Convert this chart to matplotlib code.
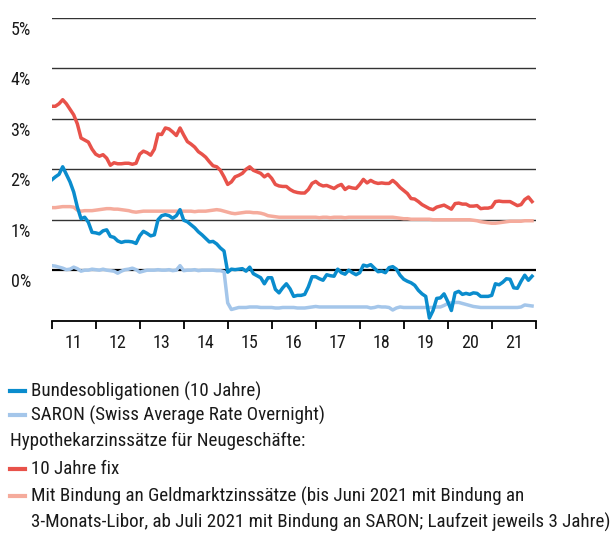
import numpy as np
import matplotlib
matplotlib.use("Agg")
import matplotlib.pyplot as plt
from matplotlib import font_manager

# schmale Schrift suchen, falls vorhanden
schrift = None
schmal = None
for f in font_manager.fontManager.ttflist:
    if f.style == 'normal' and f.weight in (400, 'normal', 'regular') and \
            f.stretch in ('condensed', 'semi-condensed', 'extra-condensed'):
        if schrift is None or f.name in ('Liberation Sans Narrow', 'Roboto Condensed', 'Noto Sans'):
            schrift, schmal = f.name, f.stretch
if schrift is None:
    for name in ['Liberation Sans Narrow', 'Roboto Condensed', 'Roboto']:
        if any(f.name == name for f in font_manager.fontManager.ttflist):
            schrift, schmal = name, 'normal'
            break
if schrift is None:
    schrift, schmal = 'DejaVu Sans', 'normal'

plt.rcParams['font.family'] = [schrift, 'DejaVu Sans']
plt.rcParams['font.stretch'] = schmal

# Monatswerte Jan 2011 - Dez 2021 (in %)
bund_10j = [
    1.79, 1.85, 1.90, 2.05, 1.90, 1.75, 1.55, 1.25, 1.02, 1.05, 0.95, 0.75,
    0.74, 0.72, 0.78, 0.80, 0.67, 0.65, 0.58, 0.55, 0.57, 0.57, 0.56, 0.53,
    0.68, 0.77, 0.73, 0.68, 0.70, 1.00, 1.08, 1.10, 1.08, 1.03, 1.08, 1.20,
    0.99, 0.96, 0.90, 0.84, 0.76, 0.70, 0.63, 0.56, 0.57, 0.52, 0.44, 0.38,
    -0.04, 0.02, 0.01, 0.02, 0.03, -0.02, 0.06, -0.07, -0.11, -0.15, -0.27, -0.15,
    -0.15, -0.38, -0.45, -0.35, -0.27, -0.37, -0.52, -0.50, -0.50, -0.48, -0.33, -0.13,
    -0.13, -0.17, -0.20, -0.09, -0.11, -0.12, 0.02, -0.05, -0.08, 0.00, -0.05, -0.09,
    -0.05, 0.10, 0.08, 0.11, 0.04, -0.03, -0.02, -0.05, 0.05, 0.07, 0.02, -0.10,
    -0.18, -0.22, -0.25, -0.30, -0.40, -0.47, -0.52, -0.95, -0.80, -0.56, -0.55, -0.47,
    -0.62, -0.80, -0.45, -0.42, -0.48, -0.46, -0.48, -0.45, -0.46, -0.52, -0.52, -0.52,
    -0.50, -0.27, -0.29, -0.24, -0.17, -0.18, -0.35, -0.36, -0.22, -0.10, -0.20, -0.12,
]
saron = [
    0.09, 0.08, 0.06, 0.04, 0.01, 0.02, 0.06, 0.03, -0.02, 0.00, 0.00, 0.02,
    0.01, 0.00, 0.02, 0.00, -0.01, -0.02, -0.06, -0.02, 0.01, 0.02, 0.04, 0.01,
    -0.04, -0.02, 0.00, 0.00, 0.00, 0.01, 0.00, 0.00, 0.01, -0.01, 0.00, 0.09,
    -0.01, 0.00, 0.00, 0.01, -0.01, 0.00, 0.00, 0.00, 0.00, -0.01, -0.01, -0.03,
    -0.65, -0.78, -0.76, -0.74, -0.74, -0.74, -0.73, -0.73, -0.73, -0.74, -0.74, -0.74,
    -0.74, -0.75, -0.75, -0.74, -0.74, -0.74, -0.74, -0.75, -0.75, -0.75, -0.74, -0.73,
    -0.72, -0.73, -0.73, -0.73, -0.73, -0.73, -0.73, -0.73, -0.73, -0.73, -0.73, -0.73,
    -0.73, -0.73, -0.73, -0.75, -0.74, -0.72, -0.73, -0.73, -0.74, -0.79, -0.75, -0.73,
    -0.74, -0.74, -0.74, -0.74, -0.74, -0.74, -0.74, -0.74, -0.74, -0.73, -0.73, -0.70,
    -0.66, -0.65, -0.64, -0.64, -0.66, -0.68, -0.70, -0.72, -0.73, -0.74, -0.74, -0.74,
    -0.74, -0.74, -0.74, -0.74, -0.74, -0.74, -0.74, -0.74, -0.73, -0.69, -0.70, -0.71,
]
hypo_10j_fix = [
    3.25, 3.25, 3.30, 3.38, 3.30, 3.19, 3.08, 2.90, 2.62, 2.58, 2.54, 2.40,
    2.30, 2.26, 2.29, 2.22, 2.08, 2.13, 2.11, 2.11, 2.12, 2.12, 2.10, 2.12,
    2.30, 2.36, 2.33, 2.28, 2.40, 2.70, 2.69, 2.82, 2.80, 2.74, 2.67, 2.82,
    2.68, 2.55, 2.50, 2.44, 2.35, 2.30, 2.24, 2.15, 2.07, 2.05, 1.98, 1.85,
    1.70, 1.75, 1.85, 1.88, 1.92, 2.00, 2.05, 1.98, 1.95, 1.92, 1.85, 1.90,
    1.82, 1.70, 1.67, 1.66, 1.66, 1.60, 1.56, 1.54, 1.53, 1.53, 1.60, 1.72,
    1.76, 1.70, 1.67, 1.68, 1.65, 1.62, 1.67, 1.70, 1.60, 1.65, 1.63, 1.62,
    1.70, 1.80, 1.73, 1.78, 1.74, 1.72, 1.73, 1.72, 1.72, 1.78, 1.72, 1.64,
    1.58, 1.52, 1.42, 1.41, 1.36, 1.30, 1.26, 1.22, 1.20, 1.25, 1.27, 1.29,
    1.25, 1.21, 1.32, 1.33, 1.31, 1.31, 1.27, 1.27, 1.28, 1.22, 1.23, 1.23,
    1.25, 1.36, 1.37, 1.36, 1.36, 1.36, 1.32, 1.28, 1.30, 1.40, 1.45, 1.36,
]
hypo_geldmarkt = [
    1.24, 1.24, 1.25, 1.26, 1.26, 1.26, 1.25, 1.19, 1.17, 1.18, 1.18, 1.18,
    1.19, 1.20, 1.21, 1.22, 1.22, 1.21, 1.21, 1.20, 1.19, 1.18, 1.16, 1.15,
    1.16, 1.17, 1.17, 1.17, 1.17, 1.17, 1.17, 1.17, 1.17, 1.17, 1.17, 1.17,
    1.17, 1.17, 1.17, 1.16, 1.17, 1.17, 1.17, 1.18, 1.19, 1.20, 1.19, 1.17,
    1.15, 1.13, 1.12, 1.13, 1.14, 1.15, 1.15, 1.14, 1.14, 1.13, 1.11, 1.08,
    1.07, 1.06, 1.05, 1.05, 1.05, 1.05, 1.05, 1.05, 1.05, 1.05, 1.05, 1.05,
    1.05, 1.04, 1.05, 1.05, 1.04, 1.05, 1.05, 1.05, 1.04, 1.05, 1.05, 1.05,
    1.05, 1.05, 1.05, 1.05, 1.05, 1.05, 1.05, 1.05, 1.05, 1.05, 1.04, 1.03,
    1.02, 1.02, 1.01, 1.01, 1.01, 1.01, 1.01, 1.01, 1.00, 1.00, 1.00, 1.00,
    1.00, 1.00, 1.00, 1.00, 1.00, 1.00, 1.00, 0.99, 0.98, 0.96, 0.95, 0.94,
    0.93, 0.93, 0.94, 0.95, 0.96, 0.97, 0.97, 0.97, 0.97, 0.98, 0.98, 0.98,
]
jahre = list(range(2011, 2022))
y_ticks = [0, 1, 2, 3, 4, 5]

farben = {
    'bund': '#0a8ccd',
    'saron': '#a4c6ea',
    'fix': '#e8524a',
    'geld': '#f5ab9c',
}

zeit = 2011 + np.arange(len(bund_10j)) / 12

fig = plt.figure(figsize=(6.11, 5.33), dpi=100)
ax = fig.add_axes([0.0846, 0.3985, 0.7922, 0.5677])
renderer = fig.canvas.get_renderer()

# Gitterlinien
for yv in y_ticks:
    ax.axhline(yv, color='black' if yv == 0 else '#333333',
               lw=1.6 if yv == 0 else 1.0, zorder=1)

lw = 2.5
ax.plot(zeit, hypo_geldmarkt, color=farben['geld'], lw=lw, zorder=3)
ax.plot(zeit, saron, color=farben['saron'], lw=lw, zorder=3)
ax.plot(zeit, hypo_10j_fix, color=farben['fix'], lw=lw, zorder=4)
ax.plot(zeit, bund_10j, color=farben['bund'], lw=lw, zorder=4)

ax.set_xlim(2011, 2022)
ax.set_ylim(-1, 5)

for s in ['top', 'right', 'left']:
    ax.spines[s].set_visible(False)
ax.spines['bottom'].set_linewidth(1.3)

# Legende: Schriftgroesse so, dass die lange Zeile bis x=608 reicht
letzte = "3-Monats-Libor, ab Juli 2021 mit Bindung an SARON; Laufzeit jeweils 3 Jahre)"
probe = fig.text(0, 0, letzte, fontsize=10)
breite = probe.get_window_extent(renderer).width
probe.remove()
fs_leg = min(14, 10 * 577 / breite)
fs_achse = 13

ax.set_yticks([])
ax.set_xticks(jahre + [2022])
ax.set_xticklabels([])
ax.tick_params(axis='x', which='major', direction='out', length=6, width=1.3)
ax.set_xticks([j + 0.5 for j in jahre], minor=True)
ax.set_xticklabels([str(j)[2:] for j in jahre], minor=True, fontsize=fs_achse, color='#1a1a1a')
ax.tick_params(axis='x', which='minor', length=0, pad=10)

# y-Beschriftungen unter den Gitterlinien
for yv in y_ticks:
    ax.text(-0.085, yv - 0.06, f"{yv}%", transform=ax.get_yaxis_transform(),
            ha='left', va='top', fontsize=fs_achse, color='#1a1a1a')

txt = dict(fontsize=fs_leg, color='#1a1a1a', va='center', ha='left')
def leg_eintrag(y_px, farbe, text):
    yf = 1 - y_px / 533
    fig.add_artist(plt.Line2D([10 / 611, 25 / 611], [yf, yf], color=farbe, lw=3,
                              transform=fig.transFigure))
    fig.text(31 / 611, yf, text, **txt)

leg_eintrag(391, farben['bund'], "Bundesobligationen (10 Jahre)")
leg_eintrag(415, farben['saron'], "SARON (Swiss Average Rate Overnight)")
fig.text(10 / 611, 1 - 441 / 533, "Hypothekarzinssätze für Neugeschäfte:", **txt)
leg_eintrag(469, farben['fix'], "10 Jahre fix")
leg_eintrag(496, farben['geld'], "Mit Bindung an Geldmarktzinssätze (bis Juni 2021 mit Bindung an")
fig.text(31 / 611, 1 - 522 / 533, letzte, **txt)

fig.savefig("out.png", dpi=100)
